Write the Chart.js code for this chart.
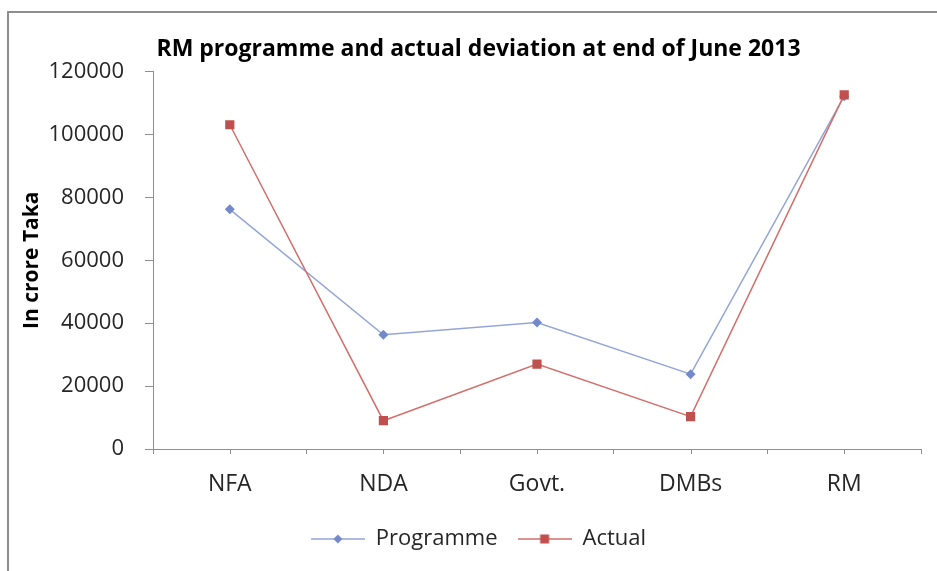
<!DOCTYPE html>
<html>
<head>
<meta charset="utf-8">
<script src="https://cdn.jsdelivr.net/npm/chart.js@4.4.0/dist/chart.umd.min.js"></script>
<style>
  html, body { margin: 0; padding: 0; background: #fff; }
  #wrap { position: relative; width: 937px; height: 571px; overflow: hidden; }
  #frame { position: absolute; left: 7px; top: 11px; width: 1000px; height: 1000px;
           border-left: 2px solid #8e8e8e; border-top: 2px solid #8e8e8e; }
  canvas { position: absolute; left: 0; top: 0; }
</style>
</head>
<body>
<div id="wrap">
  <div id="frame"></div>
  <canvas id="chart" width="937" height="571"></canvas>
</div>
<script>
// values
const categories = ['NFA', 'NDA', 'Govt.', 'DMBs', 'RM'];
const programme = [76200, 36300, 40200, 23800, 112200];
const actual = [103100, 9000, 27000, 10300, 112600];
const yMin = 0;
const yMax = 120000;
const yStep = 20000;

const progLine = '#94a6d8';
const progMark = '#7489c9';
const actLine = '#d36f6c';
const actMark = '#c0504d';
const axisColor = '#8e8e8e';
const textColor = '#262626';

// little legend swatch: a line with the marker in the middle
function legendSwatch(lineColor, markColor, shape) {
    const c = document.createElement('canvas');
    c.width = 54;
    c.height = 12;
    const g = c.getContext('2d');
    g.strokeStyle = lineColor;
    g.lineWidth = 1.5;
    g.beginPath();
    g.moveTo(0, 6);
    g.lineTo(54, 6);
    g.stroke();
    g.fillStyle = markColor;
    if (shape === 'diamond') {
        g.beginPath();
        g.moveTo(27, 1.5);
        g.lineTo(31.5, 6);
        g.lineTo(27, 10.5);
        g.lineTo(22.5, 6);
        g.closePath();
        g.fill();
    } else {
        g.fillRect(22.5, 1.5, 9, 9);
    }
    return c;
}
const swatches = [
    legendSwatch(progLine, progMark, 'diamond'),
    legendSwatch(actLine, actMark, 'square')
];

// extra tick marks under each category centre
const centreTicks = {
    id: 'centreTicks',
    afterDraw(chart) {
        const x = chart.scales.x;
        const ctx = chart.ctx;
        ctx.save();
        ctx.strokeStyle = axisColor;
        ctx.lineWidth = 1;
        for (let i = 0; i < categories.length; i++) {
            const px = Math.round(x.getPixelForValue(i)) + 0.5;
            ctx.beginPath();
            ctx.moveTo(px, x.top);
            ctx.lineTo(px, x.top + 5);
            ctx.stroke();
        }
        ctx.restore();
    }
};

Chart.defaults.font.family = "'Open Sans', sans-serif";
Chart.defaults.color = textColor;

new Chart(document.getElementById('chart'), {
    type: 'line',
    data: {
        labels: categories,
        datasets: [
            {
                label: 'Programme',
                data: programme,
                borderColor: progLine,
                borderWidth: 1.5,
                backgroundColor: progMark,
                pointStyle: 'rectRot',
                pointRadius: 5,
                pointBorderWidth: 0,
                pointBackgroundColor: progMark,
                tension: 0,
                order: 1
            },
            {
                label: 'Actual',
                data: actual,
                borderColor: actLine,
                borderWidth: 1.5,
                backgroundColor: actMark,
                pointStyle: 'rect',
                pointRadius: 6.5,
                pointBorderWidth: 0,
                pointBackgroundColor: actMark,
                tension: 0,
                order: 0
            }
        ]
    },
    options: {
        responsive: false,
        animation: false,
        layout: { padding: { left: 36, right: 16, top: 0, bottom: 11 } },
        plugins: {
            tooltip: { enabled: false },
            title: {
                display: true,
                text: 'RM programme and actual deviation at end of June 2013',
                color: '#000',
                font: { size: 23, weight: 'bold' },
                padding: { top: 36, bottom: 8 }
            },
            legend: {
                position: 'bottom',
                labels: {
                    usePointStyle: true,
                    pointStyleWidth: 54,
                    padding: 20,
                    color: textColor,
                    font: { size: 22 },
                    generateLabels(chart) {
                        const items = Chart.defaults.plugins.legend.labels.generateLabels(chart);
                        items.sort((a, b) => a.datasetIndex - b.datasetIndex);
                        items.forEach(it => { it.pointStyle = swatches[it.datasetIndex]; });
                        return items;
                    }
                }
            }
        },
        scales: {
            x: {
                offset: true,
                grid: { drawOnChartArea: false, offset: true, tickLength: 5, color: axisColor },
                border: { color: axisColor },
                ticks: { font: { size: 23 }, padding: 17, color: textColor },
                afterFit(scale) { scale.height = 59; }
            },
            y: {
                min: yMin,
                max: yMax,
                grid: { drawOnChartArea: false, tickLength: 8, color: axisColor },
                border: { color: axisColor },
                ticks: {
                    stepSize: yStep,
                    font: { size: 22 },
                    padding: 21,
                    color: textColor,
                    callback: v => String(v)
                },
                title: {
                    display: true,
                    text: 'In crore Taka',
                    color: '#000',
                    font: { size: 21, weight: 'bold' },
                    padding: { top: -17, bottom: 0 }
                },
                afterFit(scale) { scale.width = 117; }
            }
        }
    },
    plugins: [centreTicks]
});
</script>
</body>
</html>
